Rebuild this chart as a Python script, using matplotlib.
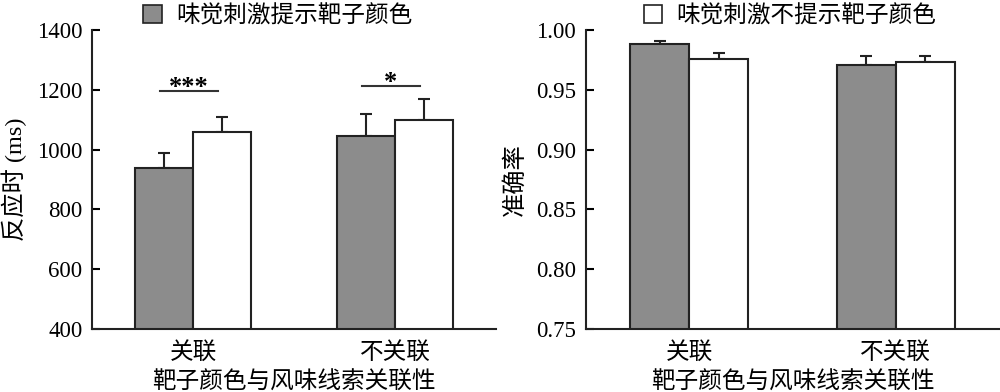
import matplotlib
matplotlib.use("Agg")
import matplotlib.pyplot as plt
from matplotlib.patches import Patch
import numpy as np

plt.rcParams['font.family'] = ['Liberation Serif', 'Noto Sans CJK SC']
plt.rcParams['font.size'] = 16

# data
categories = ['关联', '不关联']
legend_labels = ['味觉刺激提示靶子颜色', '味觉刺激不提示靶子颜色']

rt_cue = [940, 1047]
rt_cue_err = [50, 73]
rt_nocue = [1060, 1100]
rt_nocue_err = [50, 70]

acc_cue = [0.988, 0.971]
acc_cue_err = [0.003, 0.007]
acc_nocue = [0.976, 0.973]
acc_nocue_err = [0.005, 0.005]

sig_marks = ['***', '*']
sig_heights = [1197, 1213]

gray = '#8c8c8c'
width = 0.285

fig = plt.figure(figsize=(10, 3.92), dpi=100)
ax1 = fig.add_axes([0.092, 0.1607, 0.404, 0.7628])
ax2 = fig.add_axes([0.586, 0.1607, 0.413, 0.7628])

x = np.arange(len(categories))


def draw_panel(ax, v1, e1, v2, e2):
    ax.errorbar(x - width / 2, v1, yerr=[np.zeros(len(e1)), e1], fmt='none',
                ecolor='#222222', elinewidth=1.5, capsize=4.5, capthick=1.5, zorder=1)
    ax.errorbar(x + width / 2, v2, yerr=[np.zeros(len(e2)), e2], fmt='none',
                ecolor='#222222', elinewidth=1.5, capsize=4.5, capthick=1.5, zorder=1)
    ax.bar(x - width / 2, v1, width, color=gray, edgecolor='#222222', linewidth=1.5, zorder=2)
    ax.bar(x + width / 2, v2, width, color='white', edgecolor='#222222', linewidth=1.5, zorder=2)
    ax.set_xlim(-0.5, 1.5)
    ax.set_xticks(x)
    ax.set_xticklabels(categories, fontsize=17)
    ax.set_xlabel('靶子颜色与风味线索关联性', fontsize=17, labelpad=6)
    for s in ['top', 'right']:
        ax.spines[s].set_visible(False)
    for s in ['left', 'bottom']:
        ax.spines[s].set_linewidth(1.5)
        ax.spines[s].set_color('#222222')
    ax.tick_params(axis='y', direction='in', length=6, width=1.5, pad=7, labelsize=16.5)
    ax.tick_params(axis='x', length=0, pad=9)


draw_panel(ax1, rt_cue, rt_cue_err, rt_nocue, rt_nocue_err)
ax1.set_ylim(400, 1400)
ax1.set_yticks(range(400, 1401, 200))
ax1.set_ylabel('反应时 (ms)', fontsize=17.5, labelpad=7)

for i in range(len(categories)):
    ax1.plot([x[i] - width / 2 - 0.02, x[i] + width / 2 - 0.02], [sig_heights[i]] * 2,
             color='#333333', linewidth=1.5)
    ax1.text(x[i] - 0.02, sig_heights[i] - 12, sig_marks[i], ha='center', va='baseline',
             fontsize=19, fontweight='bold')

draw_panel(ax2, acc_cue, acc_cue_err, acc_nocue, acc_nocue_err)
ax2.set_ylim(0.75, 1.00)
ax2.set_yticks(np.arange(0.75, 1.001, 0.05))
ax2.set_yticklabels(['%.2f' % v for v in np.arange(0.75, 1.001, 0.05)])
ax2.set_ylabel('准确率', fontsize=17.5, labelpad=7)

h1 = Patch(facecolor=gray, edgecolor='#222222', linewidth=1.2)
h2 = Patch(facecolor='white', edgecolor='#222222', linewidth=1.2)
ax1.legend([h1], [legend_labels[0]], loc='lower center', bbox_to_anchor=(0.46, 1.01),
           frameon=False, handlelength=0.8, handleheight=0.8, handletextpad=0.6,
           borderpad=0, borderaxespad=0, fontsize=17)
ax2.legend([h2], [legend_labels[1]], loc='lower center', bbox_to_anchor=(0.494, 1.01),
           frameon=False, handlelength=0.8, handleheight=0.8, handletextpad=0.6,
           borderpad=0, borderaxespad=0, fontsize=17)

fig.savefig('out.png', dpi=100)
